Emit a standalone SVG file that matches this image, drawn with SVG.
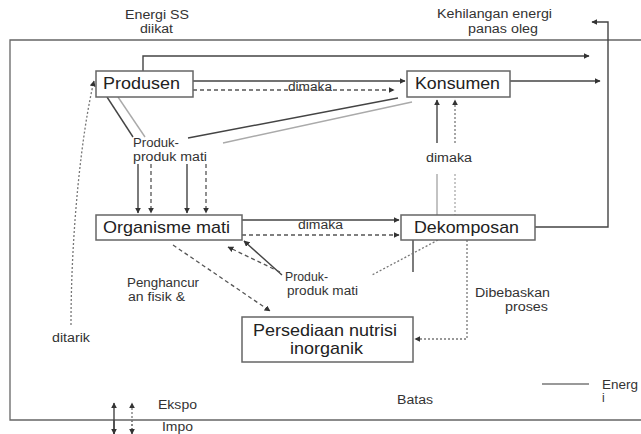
<svg xmlns="http://www.w3.org/2000/svg" width="641" height="434" viewBox="0 0 641 434">
  <style>
    text { font-family: "Liberation Sans", Arial, sans-serif; fill: #333; }
    .sm { font-size: 12px; }
    .bx { font-size: 17px; fill: #222; }
    .box { fill: #fff; stroke: #666; stroke-width: 1.5; }
    .ln { fill: none; stroke: #444; stroke-width: 1.4; }
    .lt { fill: none; stroke: #aaa; stroke-width: 1.4; }
    .da { fill: none; stroke: #555; stroke-width: 1.3; stroke-dasharray: 4 3; }
    .dt { fill: none; stroke: #777; stroke-width: 1.3; stroke-dasharray: 2 2; }
  </style>
  <defs>
    <marker id="ah" viewBox="0 0 10 10" refX="9" refY="5" markerWidth="6" markerHeight="6" markerUnits="userSpaceOnUse" orient="auto">
      <path d="M0,0 L10,5 L0,10 z" fill="#333"/>
    </marker>
  </defs>

  <rect width="641" height="434" fill="#fff"/>

  <!-- system boundary -->
  <path d="M641,40 H10 V420 H641" fill="none" stroke="#666" stroke-width="1.3"/>

  <!-- free labels -->
  <g id="labels">
    <text class="sm" x="125" y="19" textLength="64" lengthAdjust="spacingAndGlyphs">Energi SS</text>
    <text class="sm" x="140" y="33" textLength="33" lengthAdjust="spacingAndGlyphs">diikat</text>
    <text class="sm" x="437" y="18" textLength="115" lengthAdjust="spacingAndGlyphs">Kehilangan energi</text>
    <text class="sm" x="468" y="33" textLength="70" lengthAdjust="spacingAndGlyphs">panas oleg</text>
    <text class="sm" x="288" y="91" textLength="44" lengthAdjust="spacingAndGlyphs">dimaka</text>
    <text class="sm" x="133" y="147" textLength="46" lengthAdjust="spacingAndGlyphs">Produk-</text>
    <text class="sm" x="133" y="161" textLength="74" lengthAdjust="spacingAndGlyphs">produk mati</text>
    <text class="sm" x="426" y="162" textLength="46" lengthAdjust="spacingAndGlyphs">dimaka</text>
    <text class="sm" x="298" y="229" textLength="45" lengthAdjust="spacingAndGlyphs">dimaka</text>
    <text class="sm" x="285" y="281" textLength="43" lengthAdjust="spacingAndGlyphs">Produk-</text>
    <text class="sm" x="287" y="295" textLength="71" lengthAdjust="spacingAndGlyphs">produk mati</text>
    <text class="sm" x="127" y="287" textLength="72" lengthAdjust="spacingAndGlyphs">Penghancur</text>
    <text class="sm" x="128" y="301" textLength="57" lengthAdjust="spacingAndGlyphs">an fisik &amp;</text>
    <text class="sm" x="475" y="297" textLength="75" lengthAdjust="spacingAndGlyphs">Dibebaskan</text>
    <text class="sm" x="505" y="311" textLength="43" lengthAdjust="spacingAndGlyphs">proses</text>
    <text class="sm" x="52" y="342" textLength="38" lengthAdjust="spacingAndGlyphs">ditarik</text>
    <text class="sm" x="158" y="409" textLength="39" lengthAdjust="spacingAndGlyphs">Ekspo</text>
    <text class="sm" x="162" y="431" textLength="31" lengthAdjust="spacingAndGlyphs">Impo</text>
    <text class="sm" x="397" y="404" textLength="36" lengthAdjust="spacingAndGlyphs">Batas</text>
    <text class="sm" x="602" y="389" textLength="36" lengthAdjust="spacingAndGlyphs">Energ</text>
    <text class="sm" x="602" y="402">i</text>
  </g>

  <!-- connectors -->
  <g id="connectors">
    <!-- energy flow out of the producers -->
    <path class="ln" d="M143,71 V56 H589" marker-end="url(#ah)"/>
    <path class="ln" d="M193,81 H405" marker-end="url(#ah)"/>
    <path class="da" d="M193,90 H394" marker-end="url(#ah)"/>
    <path class="ln" d="M510,81 H600" marker-end="url(#ah)"/>
    <!-- heat loss from decomposers -->
    <path class="ln" d="M535,227 H608 V22 H592" marker-end="url(#ah)"/>

    <!-- dead matter from producers and consumers -->
    <path class="ln" d="M107,97 L133,137"/>
    <path class="lt" d="M118,97 L145,137"/>
    <path class="ln" d="M398,98 L188,138"/>
    <path class="lt" d="M412,102 L223,143"/>
    <path class="ln" d="M138,164 V213" marker-end="url(#ah)"/>
    <path class="da" d="M151,164 V213" marker-end="url(#ah)"/>
    <path class="ln" d="M187,164 V213" marker-end="url(#ah)"/>
    <path class="da" d="M206,164 V213" marker-end="url(#ah)"/>

    <!-- dead organisms to decomposers -->
    <path class="ln" d="M242,220 H399" marker-end="url(#ah)"/>
    <path class="da" d="M242,235 H399" marker-end="url(#ah)"/>

    <!-- decomposers eaten by consumers -->
    <path class="ln" d="M437,143 V100" marker-end="url(#ah)"/>
    <path class="dt" d="M455,143 V100" marker-end="url(#ah)"/>
    <path class="lt" d="M437,174 V215"/>
    <path class="dt" style="stroke:#aaa" d="M455,174 V215"/>

    <!-- dead matter from decomposers -->
    <path class="ln" d="M413,240 V272"/>
    <path class="dt" d="M438,240 L372,275"/>
    <path class="ln" d="M282,275 L244,241" marker-end="url(#ah)"/>
    <path class="da" d="M280,272 L228,247" marker-end="url(#ah)"/>

    <!-- to the inorganic nutrient pool -->
    <path class="da" d="M173,245 L270,311" marker-end="url(#ah)"/>
    <path class="dt" d="M467,240 V339 H415" marker-end="url(#ah)"/>

    <!-- uptake -->
    <path class="dt" d="M71,325 C71,230 82,130 94,81" marker-end="url(#ah)"/>

    <!-- export / import -->
    <path class="ln" d="M114,434 V403" marker-end="url(#ah)"/>
    <path class="ln" d="M114,420 V434" marker-end="url(#ah)"/>
    <path class="dt" d="M132,434 V403" marker-end="url(#ah)"/>
    <path class="dt" d="M132,420 V434" marker-end="url(#ah)"/>

    <!-- legend line -->
    <path class="ln" style="stroke:#777" d="M542,384 H589"/>
  </g>

  <!-- nodes -->
  <g id="produsen">
    <rect class="box" x="96" y="71" width="97" height="26"/>
    <text class="bx" x="103" y="89" textLength="77" lengthAdjust="spacingAndGlyphs">Produsen</text>
  </g>
  <g id="konsumen">
    <rect class="box" x="407" y="71" width="103" height="26"/>
    <text class="bx" x="415" y="89" textLength="85" lengthAdjust="spacingAndGlyphs">Konsumen</text>
  </g>
  <g id="organisme-mati">
    <rect class="box" x="96" y="215" width="146" height="25"/>
    <text class="bx" x="103" y="233" textLength="127" lengthAdjust="spacingAndGlyphs">Organisme mati</text>
  </g>
  <g id="dekomposan">
    <rect class="box" x="401" y="215" width="134" height="25"/>
    <text class="bx" x="414" y="233" textLength="105" lengthAdjust="spacingAndGlyphs">Dekomposan</text>
  </g>
  <g id="persediaan">
    <rect class="box" x="242" y="317" width="171" height="45"/>
    <text class="bx" x="253" y="336" textLength="144" lengthAdjust="spacingAndGlyphs">Persediaan nutrisi</text>
    <text class="bx" x="290" y="354" textLength="73" lengthAdjust="spacingAndGlyphs">inorganik</text>
  </g>
</svg>
